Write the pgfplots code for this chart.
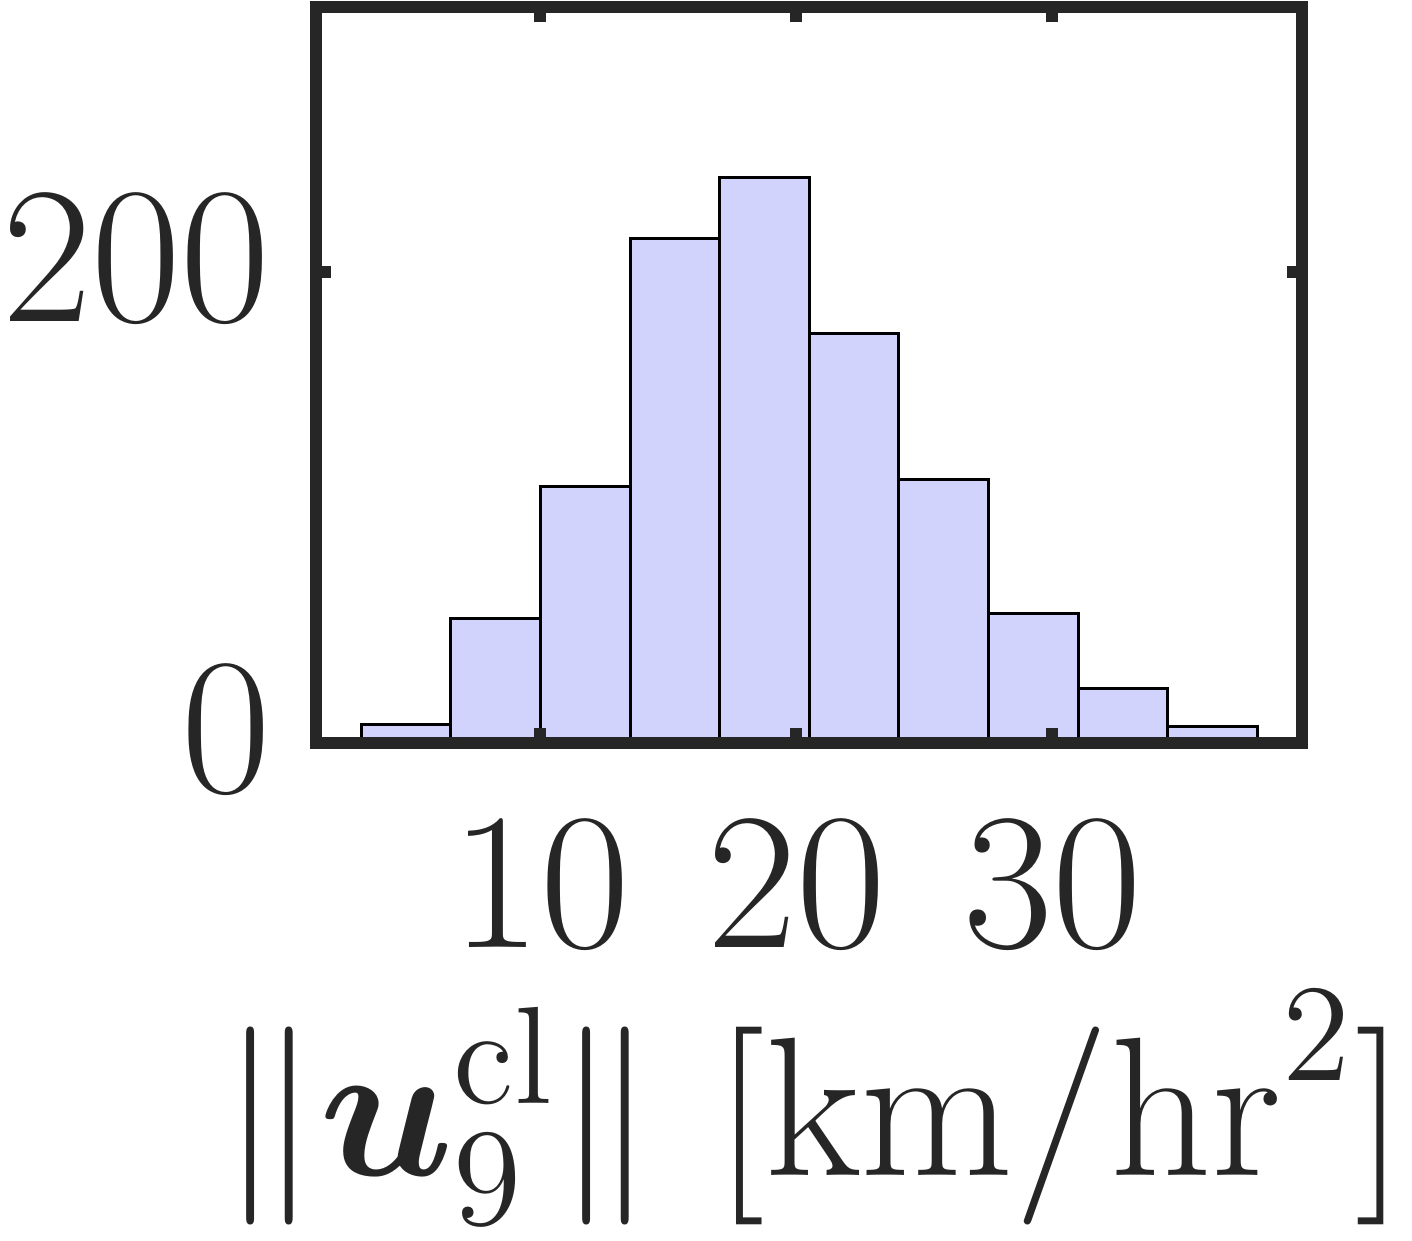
\RequirePackage{fix-cm}
\documentclass[border=0pt]{standalone}
\usepackage{bm}
\usepackage{pgfplots}
\pgfplotsset{compat=1.18}
\DeclareMathSizes{19.5}{19.5}{13.3}{9.75}
\definecolor{axgray}{RGB}{38,38,38}
\definecolor{barfill}{RGB}{209,211,252}
\begin{document}
\begin{tikzpicture}
\path[use as bounding box] (-31.65pt,-49.7pt) rectangle (109.55pt,74.3pt);
\begin{axis}[
  at={(0,0)}, anchor=south west,
  scale only axis, width=98.55pt, height=73.65pt,
  xmin=1.25, xmax=39.75, ymin=0, ymax=312.7,
  axis on top,
  axis line style={axgray, line width=1.2pt},
  every tick/.style={axgray, line width=1.2pt},
  major tick length=1.5pt,
  tick align=inside,
  xtick={10,20,30}, ytick={0,200},
  ticklabel style={font=\fontsize{19.5}{23}\selectfont, text=axgray, inner sep=0pt},
  yticklabel style={xshift=-4.4pt, yshift=1.35pt},
  xticklabel style={yshift=-7.7pt},
  xlabel={$\|\bm{u}_9^{\mathrm{cl}}\|\ [\mathrm{km/hr}^2]$},
  xlabel style={at={(axis description cs:0.5,0)}, anchor=base, yshift=-43.2pt, xshift=0.3pt, inner sep=0pt, font=\fontsize{19.8}{23}\selectfont, text=axgray},
]
\addplot[ybar interval, fill=barfill, draw=black, line width=0.3pt] coordinates {
(3,8) (6.5,53) (10,109) (13.5,214) (17,240) (20.5,174) (24,112) (27.5,55) (31,23) (34.5,7) (38,0)
};
\end{axis}
\end{tikzpicture}
\end{document}
